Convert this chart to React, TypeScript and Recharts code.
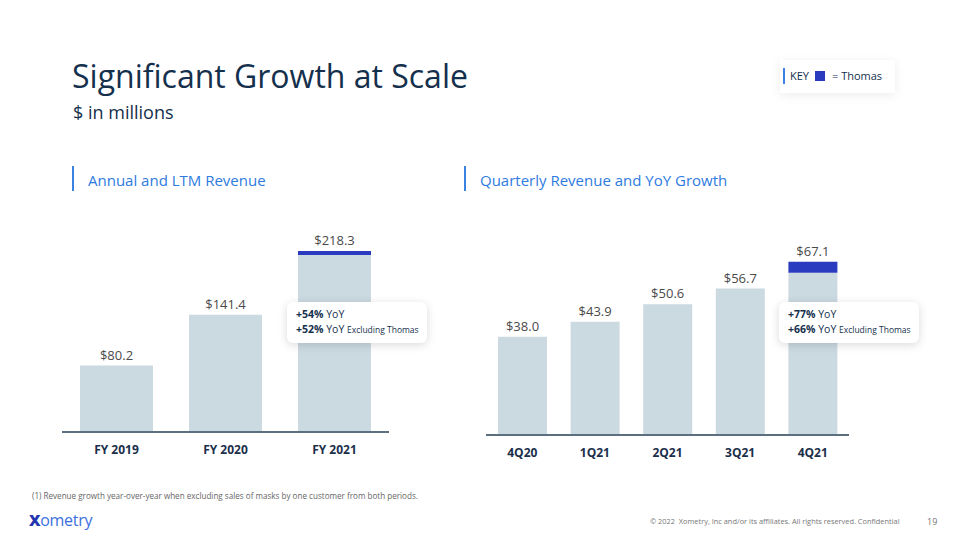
import React from "react";
import { BarChart, Bar, XAxis, YAxis, LabelList } from "recharts";

const annualCategories = ["FY 2019", "FY 2020", "FY 2021"];
const annualTotal = [80.2, 141.4, 218.3];
const annualThomas = [0, 0, 4.8];

const quarterCategories = ["4Q20", "1Q21", "2Q21", "3Q21", "4Q21"];
const quarterTotal = [38.0, 43.9, 50.6, 56.7, 67.1];
const quarterThomas = [0, 0, 0, 0, 4.3];

const FONT = "'Open Sans', 'Noto Sans', sans-serif";
const BAR = "#cbd9e1";
const THOMAS = "#2a3bbf";
const NAVY = "#15304d";
const BLUE = "#2e7be0";

const buildRows = (cats: string[], totals: number[], thomas: number[]) =>
  cats.map((name, i) => ({
    name,
    base: +(totals[i] - thomas[i]).toFixed(1),
    thomas: thomas[i],
    total: totals[i],
  }));

const annualData = buildRows(annualCategories, annualTotal, annualThomas);
const quarterData = buildRows(quarterCategories, quarterTotal, quarterThomas);

const tickStyle = { fill: "#1b2f4b", fontSize: 12, fontWeight: 700, fontFamily: FONT };

// label sits on top of the whole stack, drawn from the base bar
const stackTopLabel = (data: typeof annualData) => (props: any) => {
  const { x, y, width, height, index } = props;
  const row = data[index];
  const pxPerUnit = height / row.base;
  const top = y - row.thomas * pxPerUnit;
  return (
    <text
      x={x + width / 2}
      y={top - 6}
      textAnchor="middle"
      fill="#4a4a4a"
      fontSize={13}
      fontFamily={FONT}
    >
      {`$${row.total.toFixed(1)}`}
    </text>
  );
};

const RevenueBars: React.FC<{
  data: typeof annualData;
  width: number;
  height: number;
  max: number;
  barSize: number;
}> = ({ data, width, height, max, barSize }) => (
  <BarChart
    width={width}
    height={height}
    data={data}
    margin={{ top: 0, right: 0, bottom: 0, left: 0 }}
    barCategoryGap={0}
  >
    <XAxis
      dataKey="name"
      tickLine={false}
      axisLine={{ stroke: "#5b6f80", strokeWidth: 2 }}
      tick={tickStyle}
      tickMargin={7}
      height={30}
      interval={0}
    />
    <YAxis hide domain={[0, max]} />
    <Bar dataKey="base" stackId="a" fill={BAR} barSize={barSize} isAnimationActive={false}>
      <LabelList dataKey="total" content={stackTopLabel(data)} />
    </Bar>
    <Bar dataKey="thomas" stackId="a" fill={THOMAS} barSize={barSize} isAnimationActive={false} />
  </BarChart>
);

const Callout: React.FC<{ left: number; top: number; yoy: string; excl: string }> = ({
  left,
  top,
  yoy,
  excl,
}) => (
  <div
    style={{
      position: "absolute",
      left,
      top,
      width: 140,
      height: 41,
      background: "#fff",
      borderRadius: 6,
      boxShadow: "0 2px 10px rgba(0,0,0,0.15)",
      fontFamily: FONT,
      color: NAVY,
      fontSize: 10.5,
      lineHeight: "15px",
      padding: "5px 0 0 9px",
      boxSizing: "border-box",
      whiteSpace: "nowrap",
    }}
  >
    <div>
      <b>{yoy}</b> YoY
    </div>
    <div>
      <b>{excl}</b> YoY <span style={{ fontSize: 8.5 }}>Excluding Thomas</span>
    </div>
  </div>
);

const SectionHeader: React.FC<{ left: number; text: string }> = ({ left, text }) => (
  <>
    <div style={{ position: "absolute", left, top: 166, width: 2, height: 25, background: "#3b82e0" }} />
    <div
      style={{
        position: "absolute",
        left: left + 16,
        top: 173,
        fontSize: 15,
        lineHeight: 1,
        color: BLUE,
        fontFamily: FONT,
        whiteSpace: "nowrap",
      }}
    >
      {text}
    </div>
  </>
);

export default function App() {
  return (
    <div
      style={{
        position: "fixed",
        left: 0,
        top: 0,
        width: 960,
        height: 540,
        background: "#fff",
        fontFamily: FONT,
        overflow: "hidden",
      }}
    >
      <div style={{ position: "absolute", left: 72, top: 60, fontSize: 32, lineHeight: 1, color: NAVY }}>
        Significant Growth at Scale
      </div>
      <div style={{ position: "absolute", left: 73, top: 103, fontSize: 18, lineHeight: 1, color: NAVY }}>
        $ in millions
      </div>

      <div
        style={{
          position: "absolute",
          left: 780,
          top: 60,
          width: 115,
          height: 33,
          background: "#fff",
          boxShadow: "0 2px 10px rgba(0,0,0,0.08)",
        }}
      >
        <div style={{ position: "absolute", left: 3, top: 8, width: 2, height: 16, background: "#3b82e0" }} />
        <div style={{ position: "absolute", left: 10, top: 10, fontSize: 11, lineHeight: 1, color: NAVY }}>KEY</div>
        <div style={{ position: "absolute", left: 35, top: 11, width: 10, height: 10, background: THOMAS }} />
        <div style={{ position: "absolute", left: 52, top: 10, fontSize: 11, lineHeight: 1, color: NAVY, whiteSpace: "nowrap" }}>
          = Thomas
        </div>
      </div>

      <SectionHeader left={72} text="Annual and LTM Revenue" />
      <SectionHeader left={464} text="Quarterly Revenue and YoY Growth" />

      <div style={{ position: "absolute", left: 62, top: 200 }}>
        <RevenueBars data={annualData} width={327} height={262} max={280} barSize={73} />
      </div>
      <div style={{ position: "absolute", left: 486, top: 200 }}>
        <RevenueBars data={quarterData} width={363} height={265} max={91} barSize={49} />
      </div>

      <Callout left={287} top={302} yoy="+54%" excl="+52%" />
      <Callout left={779} top={302} yoy="+77%" excl="+66%" />

      <div style={{ position: "absolute", left: 32, top: 492, fontSize: 8.1, lineHeight: 1, color: "#666", whiteSpace: "nowrap" }}>
        (1) Revenue growth year-over-year when excluding sales of masks by one customer from both periods.
      </div>
      <div style={{ position: "absolute", left: 29, top: 512, fontSize: 16, lineHeight: 1, letterSpacing: -0.3 }}>
        <span style={{ color: "#2336b0", fontWeight: 800 }}>X</span>
        <span style={{ color: "#3d6fe0" }}>ometry</span>
      </div>
      <div style={{ position: "absolute", left: 650, top: 518, fontSize: 7.4, lineHeight: 1, color: "#777", whiteSpace: "nowrap" }}>
        © 2022&nbsp; Xometry, Inc and/or its affiliates. All rights reserved. Confidential
      </div>
      <div style={{ position: "absolute", left: 927, top: 517, fontSize: 9, lineHeight: 1, color: "#777" }}>19</div>
    </div>
  );
}
